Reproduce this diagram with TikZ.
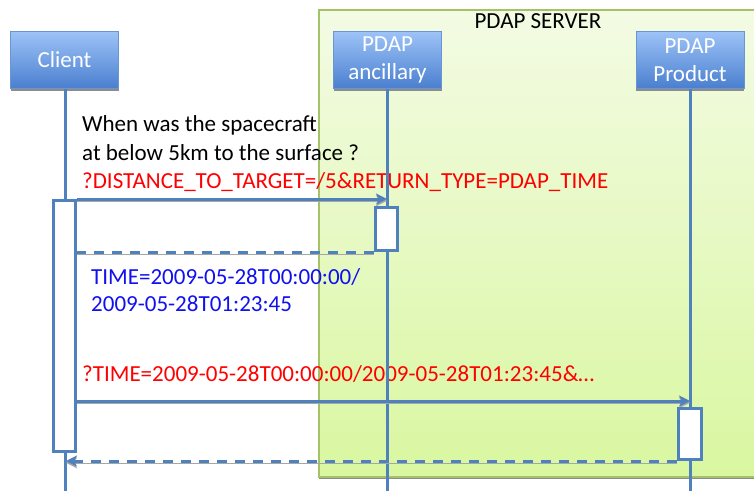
\documentclass[tikz,border=0pt]{standalone}
\usepackage{fontspec}
\setmainfont{Carlito}
\usetikzlibrary{arrows.meta,shadows}

\definecolor{lifeblue}{HTML}{4F81BD}
\definecolor{boxtop}{HTML}{9DC3F7}
\definecolor{boxbot}{HTML}{4A7FCF}
\definecolor{boxedge}{HTML}{6A94D4}
\definecolor{srvtop}{HTML}{F3FBE4}
\definecolor{srvbot}{HTML}{D9F7A0}
\definecolor{srvedge}{HTML}{A5C266}
\definecolor{reqred}{HTML}{FF0000}
\definecolor{resblue}{HTML}{1010F0}

\newcommand{\diagfont}{\fontsize{23}{28}\selectfont}

\pgfdeclarelayer{back}
\pgfsetlayers{back,main}

\tikzset{
  boxshadow/.style={drop shadow={shadow xshift=0pt, shadow yshift=-2pt, fill=black!45, opacity=1}},
  server/.style={draw=srvedge, line width=1.5pt, top color=srvtop, bottom color=srvbot,
    minimum width=451pt, minimum height=467pt, inner sep=0pt, boxshadow},
  actor/.style={draw=boxedge, line width=0.8pt, top color=boxtop, bottom color=boxbot,
    minimum width=108pt, minimum height=57pt, text=white, align=center,
    font=\diagfont, inner sep=0pt, boxshadow},
  life/.style={draw=lifeblue, line width=3pt},
  activation/.style={draw=lifeblue, line width=3pt, fill=white, inner sep=0pt},
  msgshadow/.style={preaction={draw=black!35, transform canvas={yshift=-1.8pt}}},
  msg/.style={draw=lifeblue, line width=3pt, msgshadow,
    -{Stealth[length=11pt, width=11pt, inset=3pt]}},
  reply/.style={msg, dash pattern=on 10pt off 8pt},
  plainreply/.style={draw=lifeblue, line width=3pt, msgshadow, dash pattern=on 10pt off 8pt},
  say/.style={anchor=base west, inner sep=0pt, font=\diagfont},
}

\begin{document}
\begin{tikzpicture}[x=1pt, y=-1pt]
\useasboundingbox (0,0) rectangle (754,490);

% activation bars (front layer)
\node[activation, minimum width=22pt, minimum height=251pt] (actC) at (64.5,326) {};
\node[activation, minimum width=22pt, minimum height=43pt] (actA) at (386,229) {};
\node[activation, minimum width=23pt, minimum height=51pt] (actP) at (690,434) {};

\begin{pgfonlayer}{back}
% server frame
\node[server] (srv) at (544.5,243.5) {};
\node[anchor=base, inner sep=0pt, font=\diagfont] (srvlabel) at (538,28) {PDAP SERVER};

% participants
\node[actor] (client) at (64.5,60) {Client};
\node[actor] (anc) at (387.5,60) {PDAP\\ancillary};
\node[actor] (prod) at (690,60) {PDAP\\Product};

% message texts
\node[say] (q1) at (82,131.7) {When was the spacecraft};
\node[say] (q2) at (82,160) {at below 5km to the surface ?};
\node[say, text=reqred] (q3) at (82,188) {?DISTANCE\_TO\_TARGET=/5\&RETURN\_TYPE=PDAP\_TIME};
\node[say, text=resblue] (r1) at (91,284.7) {TIME=2009-05-28T00:00:00/};
\node[say, text=resblue] (r2) at (91,311) {2009-05-28T01:23:45};
\node[say, text=reqred] (q4) at (82,381.7) {?TIME=2009-05-28T00:00:00/2009-05-28T01:23:45\&…};

% lifelines
\coordinate (bottom) at (0,495);
\coordinate (lc) at (65,0);
\coordinate (la) at (387,0);
\draw[life] (client.south -| lc) -- (bottom -| lc);
\draw[life] (anc.south -| la) -- (bottom -| la);
\draw[life] (prod.south) -- (bottom -| prod.south);

% message points on the lifelines
\coordinate (m1) at (387,199);
\coordinate (m2) at (690,401);
\coordinate (m3) at (66,461);
\coordinate (y1) at (0,252);

% messages
\draw[msg] (actC.east |- m1) -- (m1);
\draw[plainreply] (actA.west |- y1) -- (actC.east |- y1);
\draw[msg] (actC.east |- m2) -- (m2);
\draw[reply] (actP.west |- m3) -- (m3);
\end{pgfonlayer}
\end{tikzpicture}
\end{document}
